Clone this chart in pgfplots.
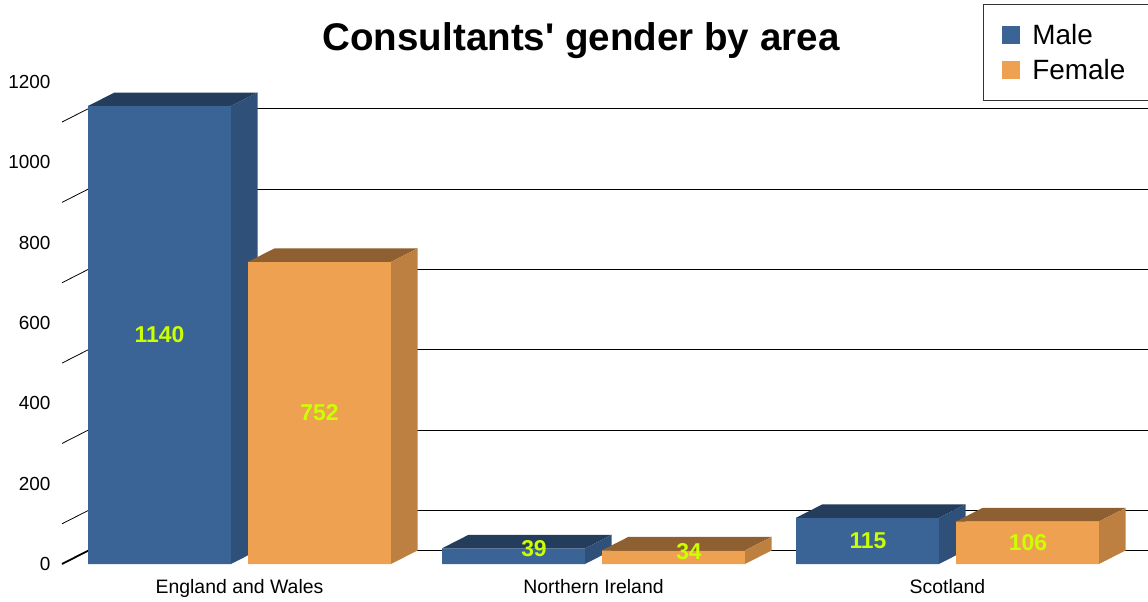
\documentclass[border=0pt]{standalone}
\usepackage{pgfplots}
\pgfplotsset{compat=1.18}
\usepackage{fontspec}
\setmainfont{Liberation Sans}
\newfontfamily\plainfont{Liberation Sans}
\definecolor{maleF}{RGB}{58,100,150}
\definecolor{maleT}{RGB}{36,61,92}
\definecolor{maleS}{RGB}{46,80,121}
\definecolor{femF}{RGB}{238,161,80}
\definecolor{femT}{RGB}{142,95,48}
\definecolor{femS}{RGB}{190,128,64}
\definecolor{lab}{RGB}{204,255,0}
\begin{document}
\begin{tikzpicture}
\useasboundingbox (0,0) rectangle (1148bp,602bp);
\begin{axis}[
  at={(56bp,38bp)}, anchor=south west,
  scale only axis, width=1092bp, height=562.45bp,
  xmin=56, xmax=1148, ymin=0, ymax=1400,
  clip=false,
  axis line style={draw=none},
  major tick length=0pt,
  xtick={239.5,593.5,947.5},
  xticklabels={England and Wales, Northern Ireland, Scotland},
  ytick={0,200,400,600,800,1000,1200},
  /pgf/number format/1000 sep={},
  /pgf/number format/assume math mode=true,
  tick label style={font=\fontsize{19}{22}\selectfont},
  xticklabel style={yshift=-12bp, font=\fontsize{19.5}{22}\selectfont},
  yticklabel style={xshift=-2bp},
  legend style={at={(axis description cs:0.8489,0.9956)}, anchor=north west,
    draw=black!80, line width=0.8bp, fill=white,
    font=\fontsize{28}{30}\selectfont,
    inner xsep=19bp, inner ysep=20bp, row sep=13bp,
    nodes={inner sep=0pt}},
  legend cell align=left,
]
% back-plane gridlines
\addplot[black, line width=0.8bp, forget plot] coordinates {(88.5,33.6)(1148,33.6)};
\addplot[black, line width=0.8bp, forget plot] coordinates {(88.5,133.6)(1148,133.6)};
\addplot[black, line width=0.8bp, forget plot] coordinates {(88.5,333.6)(1148,333.6)};
\addplot[black, line width=0.8bp, forget plot] coordinates {(88.5,533.6)(1148,533.6)};
\addplot[black, line width=0.8bp, forget plot] coordinates {(88.5,733.6)(1148,733.6)};
\addplot[black, line width=0.8bp, forget plot] coordinates {(88.5,933.6)(1148,933.6)};
\addplot[black, line width=0.8bp, forget plot] coordinates {(88.5,1133.6)(1148,1133.6)};
% left wall diagonals
\addplot[black, line width=1.8bp, forget plot] coordinates {(62,0)(88.5,33.6)};
\addplot[black, line width=0.8bp, forget plot] coordinates {(62,100)(88.5,133.6)};
\addplot[black, line width=0.8bp, forget plot] coordinates {(62,300)(88.5,333.6)};
\addplot[black, line width=0.8bp, forget plot] coordinates {(62,500)(88.5,533.6)};
\addplot[black, line width=0.8bp, forget plot] coordinates {(62,700)(88.5,733.6)};
\addplot[black, line width=0.8bp, forget plot] coordinates {(62,900)(88.5,933.6)};
\addplot[black, line width=0.8bp, forget plot] coordinates {(62,1100)(88.5,1133.6)};
% Male bars (front faces)
\addplot[ybar, bar width=143, bar shift=0, fill=maleF, draw=none,
  legend image code/.code={\fill[maleF] (0bp,-9bp) rectangle (18bp,9bp);}]
  coordinates {(159.5,1140)(513.5,39)(867.5,115)};
\addlegendentry{\hspace*{12bp}Male}
% Male top faces
\addplot[fill=maleT, draw=none, forget plot] coordinates {(88,1140)(231,1140)(257.5,1173.6)(114.5,1173.6)};
\addplot[fill=maleT, draw=none, forget plot] coordinates {(442,39)(585,39)(611.5,72.6)(468.5,72.6)};
\addplot[fill=maleT, draw=none, forget plot] coordinates {(796,115)(939,115)(965.5,148.6)(822.5,148.6)};
% Male side faces
\addplot[fill=maleS, draw=none, forget plot] coordinates {(231,0)(257.5,33.6)(257.5,1173.6)(231,1140)};
\addplot[fill=maleS, draw=none, forget plot] coordinates {(585,0)(611.5,33.6)(611.5,72.6)(585,39)};
\addplot[fill=maleS, draw=none, forget plot] coordinates {(939,0)(965.5,33.6)(965.5,148.6)(939,115)};
% Female bars (front faces)
\addplot[ybar, bar width=143, bar shift=0, fill=femF, draw=none,
  legend image code/.code={\fill[femF] (0bp,-9bp) rectangle (18bp,9bp);}]
  coordinates {(319.5,752)(673.5,34)(1027.5,106)};
\addlegendentry{\hspace*{12bp}Female\hspace*{30bp}}
% Female top faces
\addplot[fill=femT, draw=none, forget plot] coordinates {(248,752)(391,752)(417.5,785.6)(274.5,785.6)};
\addplot[fill=femT, draw=none, forget plot] coordinates {(602,34)(745,34)(771.5,67.6)(628.5,67.6)};
\addplot[fill=femT, draw=none, forget plot] coordinates {(956,106)(1099,106)(1125.5,139.6)(982.5,139.6)};
% Female side faces
\addplot[fill=femS, draw=none, forget plot] coordinates {(391,0)(417.5,33.6)(417.5,785.6)(391,752)};
\addplot[fill=femS, draw=none, forget plot] coordinates {(745,0)(771.5,33.6)(771.5,67.6)(745,34)};
\addplot[fill=femS, draw=none, forget plot] coordinates {(1099,0)(1125.5,33.6)(1125.5,139.6)(1099,106)};
% value labels
\begin{scope}[every node/.style={font=\bfseries\fontsize{23}{26}\selectfont, text=lab, inner sep=0pt}]
\node at (axis cs:159.5,570) {1140};
\node at (axis cs:319.5,376) {752};
\node at (axis cs:534,37.3) {39};
\node at (axis cs:689,29.9) {34};
\node at (axis cs:868,57.2) {115};
\node at (axis cs:1028,52.3) {106};
\end{scope}
\end{axis}
\node[anchor=base, font=\plainfont\bfseries\fontsize{38.7}{42}\selectfont] at (581bp,551bp) {Consultants' gender by area};
\end{tikzpicture}
\end{document}
